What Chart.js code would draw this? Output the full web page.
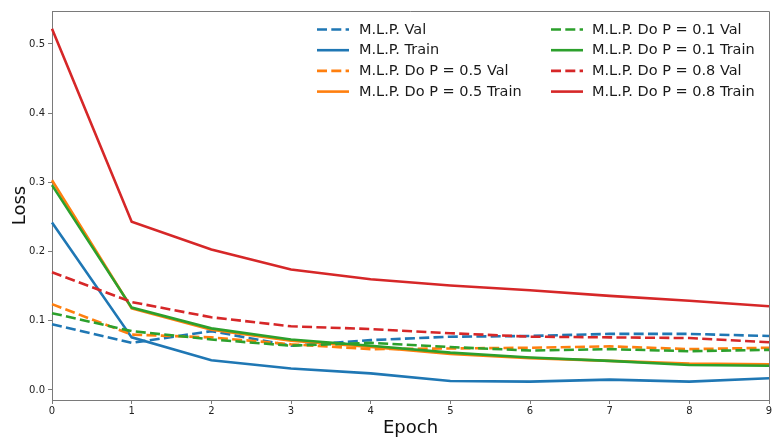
<!DOCTYPE html>
<html>
<head>
<meta charset="utf-8">
<script src="https://cdn.jsdelivr.net/npm/chart.js@4/dist/chart.umd.min.js"></script>
<style>
  html, body { margin: 0; padding: 0; background: #fff; }
  #wrap { width: 778px; height: 440px; }
</style>
</head>
<body>
<div id="wrap"><canvas id="c" width="778" height="440"></canvas></div>
<script>
const epochs = [0, 1, 2, 3, 4, 5, 6, 7, 8, 9];
const yTicks = [0.0, 0.1, 0.2, 0.3, 0.4, 0.5];

const mlpVal      = [0.095, 0.068, 0.085, 0.064, 0.072, 0.077, 0.078, 0.081, 0.081, 0.078];
const mlpTrain    = [0.242, 0.076, 0.043, 0.031, 0.024, 0.013, 0.012, 0.015, 0.012, 0.017];
const do05Val     = [0.124, 0.080, 0.076, 0.066, 0.059, 0.060, 0.061, 0.063, 0.059, 0.061];
const do05Train   = [0.303, 0.118, 0.087, 0.071, 0.062, 0.052, 0.046, 0.042, 0.038, 0.037];
const do01Val     = [0.111, 0.085, 0.073, 0.064, 0.068, 0.062, 0.057, 0.059, 0.056, 0.058];
const do01Train   = [0.296, 0.119, 0.089, 0.073, 0.064, 0.054, 0.047, 0.042, 0.036, 0.035];
const do08Val     = [0.170, 0.127, 0.105, 0.092, 0.088, 0.082, 0.077, 0.076, 0.075, 0.069];
const do08Train   = [0.522, 0.243, 0.203, 0.174, 0.160, 0.151, 0.144, 0.136, 0.129, 0.121];

const seriesNames = [
  'M.L.P. Val', 'M.L.P. Train',
  'M.L.P. Do P = 0.5 Val', 'M.L.P. Do P = 0.5 Train',
  'M.L.P. Do P = 0.1 Val', 'M.L.P. Do P = 0.1 Train',
  'M.L.P. Do P = 0.8 Val', 'M.L.P. Do P = 0.8 Train'
];
const seriesData = [mlpVal, mlpTrain, do05Val, do05Train, do01Val, do01Train, do08Val, do08Train];
const seriesColors = ['#1f77b4', '#1f77b4', '#ff7f0e', '#ff7f0e', '#2ca02c', '#2ca02c', '#d62728', '#d62728'];
const seriesDashed = [true, false, true, false, true, false, true, false];

const DASH = [10, 4.3];
const LW = 2.6;
const SPINE = '#7a7a7a';
const FONT = 'DejaVu Sans';

const datasets = seriesNames.map((name, i) => ({
  label: name,
  data: seriesData[i],
  borderColor: seriesColors[i],
  backgroundColor: seriesColors[i],
  borderWidth: LW,
  borderDash: seriesDashed[i] ? DASH : [],
  pointRadius: 0,
  pointHoverRadius: 0,
  tension: 0,
  fill: false,
  order: seriesNames.length - i
}));

const framePlugin = {
  id: 'frame',
  afterDraw(chart) {
    const { ctx, chartArea: a } = chart;
    ctx.save();
    ctx.strokeStyle = SPINE;
    ctx.lineWidth = 1;
    ctx.beginPath();
    ctx.moveTo(a.left, a.top + 0.5);
    ctx.lineTo(a.right + 0.5, a.top + 0.5);
    ctx.lineTo(a.right + 0.5, a.bottom);
    ctx.stroke();
    ctx.restore();
  }
};

const legendPlugin = {
  id: 'colLegend',
  afterDraw(chart) {
    const { ctx } = chart;
    const lineX = [317, 551];
    const textX = [359, 592];
    const y0 = 29.5, dy = 20.7, len = 32;
    ctx.save();
    ctx.font = '14.5px "' + FONT + '"';
    ctx.textBaseline = 'middle';
    ctx.textAlign = 'left';
    chart.data.datasets.forEach((ds, i) => {
      const col = Math.floor(i / 4), row = i % 4;
      const y = y0 + row * dy;
      ctx.strokeStyle = ds.borderColor;
      ctx.lineWidth = LW;
      ctx.setLineDash(ds.borderDash || []);
      ctx.beginPath();
      ctx.moveTo(lineX[col], y);
      ctx.lineTo(lineX[col] + len, y);
      ctx.stroke();
      ctx.setLineDash([]);
      ctx.fillStyle = '#1a1a1a';
      ctx.fillText(ds.label, textX[col], y + 0.5);
    });
    ctx.restore();
  }
};

new Chart(document.getElementById('c'), {
  type: 'line',
  data: { labels: epochs, datasets },
  options: {
    responsive: false,
    animation: false,
    devicePixelRatio: 1,
    layout: { padding: { top: 11, right: 9, left: 0, bottom: 0 } },
    plugins: { legend: { display: false }, tooltip: { enabled: false } },
    scales: {
      x: {
        type: 'category',
        offset: false,
        afterFit(s) { s.height = 40; },
        grid: { display: true, drawOnChartArea: false, drawTicks: true, tickLength: 4, color: SPINE },
        border: { display: true, color: SPINE, width: 1 },
        ticks: { color: '#222', font: { family: FONT, size: 10 }, padding: 1, maxRotation: 0, autoSkip: false },
        title: { display: true, text: 'Epoch', color: '#111', font: { family: FONT, size: 18 }, padding: { top: 0, bottom: 1 } }
      },
      y: {
        type: 'linear',
        min: -0.0145,
        max: 0.5476,
        afterFit(s) { s.width = 52; },
        afterBuildTicks(s) { s.ticks = yTicks.map(v => ({ value: v })); },
        grid: { display: true, drawOnChartArea: false, drawTicks: true, tickLength: 4, color: SPINE },
        border: { display: true, color: SPINE, width: 1 },
        ticks: { color: '#222', font: { family: FONT, size: 10 }, padding: 3, callback: v => Number(v).toFixed(1) },
        title: { display: true, text: 'Loss', color: '#111', font: { family: FONT, size: 18 }, padding: { top: 10, bottom: 0 } }
      }
    }
  },
  plugins: [framePlugin, legendPlugin]
});
</script>
</body>
</html>
